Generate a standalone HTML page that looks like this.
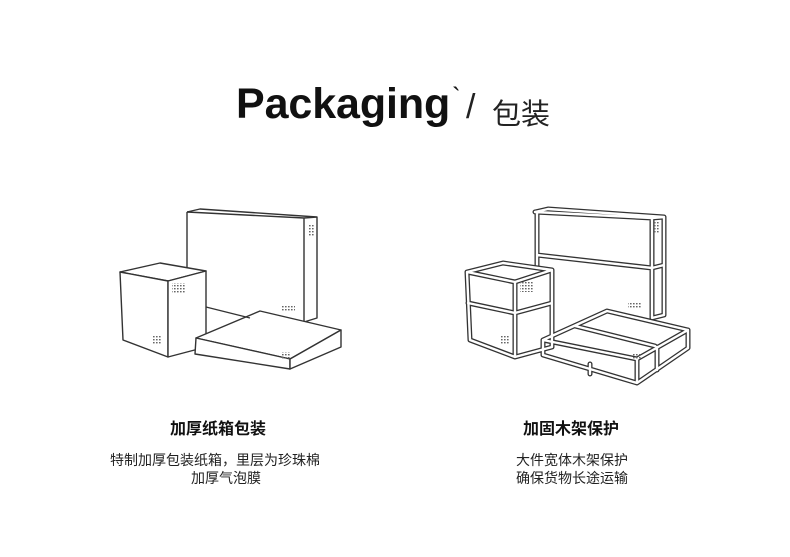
<!DOCTYPE html>
<html><head><meta charset="utf-8"><style>
body{margin:0;background:#fff;width:790px;height:557px;overflow:hidden;position:relative;font-family:"Liberation Sans","Noto Sans CJK SC",sans-serif;color:#111}
.t{position:absolute;white-space:nowrap}
</style></head><body>
<div class="t" style="left:236px;top:80px;font-size:43px;font-weight:bold;letter-spacing:-0.1px">Packaging</div>
<div class="t" style="left:452px;top:82px;font-size:26px">`</div>
<div class="t" style="left:466px;top:88px;font-size:34px;font-weight:300;color:#222">/</div>
<div class="t" style="left:492px;top:91px;font-size:29px;color:#222">包装</div>

<svg width="790" height="557" style="position:absolute;left:0;top:0" fill="none" stroke-linejoin="round">
<defs>
<pattern id="d" width="3" height="3" patternUnits="userSpaceOnUse"><rect width="1.6" height="1.4" fill="#666"/></pattern>
</defs>
<g stroke="#333" stroke-width="1.4">
 <path d="M187,212 L304,218 L317,217 L317,318 L304,322 L304,218 M187,212 L200,209 L317,217 M187,212 L187,307"/>
 <path fill="#fff" d="M120,272 L160,263 L206,271 L168,281 Z"/>
 <path fill="#fff" d="M120,272 L168,281 L168,357 L123,340 Z"/>
 <path fill="#fff" d="M168,281 L206,271 L206,347 L168,357 Z"/>
 <path fill="#fff" d="M196,338 L260,311 L341,330 L290,359 Z"/>
 <path fill="#fff" d="M196,338 L290,359 L290,369 L195,354 Z"/>
 <path fill="#fff" d="M290,359 L341,330 L341,347 L290,369 Z"/>
 <path d="M206,307 L250,318"/>
</g>
<g fill="url(#d)">
 <rect x="309" y="224" width="5" height="12"/>
 <rect x="172" y="283" width="14" height="10"/>
 <rect x="152" y="335" width="10" height="10"/>
 <rect x="281" y="306" width="14" height="6"/>
 <rect x="281" y="352" width="9" height="7"/>
</g>
<g stroke-linecap="round">
 <g stroke="#333" stroke-width="5">
  <path d="M535,212 L652,218 L664,217 L664,315 L652,318 L652,218 M535,212 L548,209 L664,217 M537,212 L537,307 M537,255 L652,268 M652,268 L664,265"/>
 </g>
 <g stroke="#fff" stroke-width="2.4">
  <path d="M535,212 L652,218 L664,217 L664,315 L652,318 L652,218 M535,212 L548,209 L664,217 M537,212 L537,307 M537,255 L652,268 M652,268 L664,265"/>
 </g>
 <path fill="#fff" d="M467,272 L503,263 L552,270 L552,347 L515,357 L470,340 Z"/>
 <path fill="#fff" d="M543,340 L607,311 L688,330 L688,348 L637,383 L543,355 Z"/>
 <g stroke="#333" stroke-width="5">
  <path d="M467,272 L503,263 L552,270 L515,282 Z M467,272 L470,340 L515,357 L552,347 L552,270 M515,282 L515,357 M468,303 L515,313 L552,303 M543,340 L607,311 L688,330 L637,359 Z M543,340 L543,355 L637,383 L688,348 L688,330 M637,359 L637,383 M590,364 L590,374 M657,347 L657,370 M575,326 L655,346"/>
 </g>
 <g stroke="#fff" stroke-width="2.4">
  <path d="M467,272 L503,263 L552,270 L515,282 Z M467,272 L470,340 L515,357 L552,347 L552,270 M515,282 L515,357 M468,303 L515,313 L552,303 M543,340 L607,311 L688,330 L637,359 Z M543,340 L543,355 L637,383 L688,348 L688,330 M637,359 L637,383 M590,364 L590,374 M657,347 L657,370 M575,326 L655,346"/>
 </g>
</g>
<g fill="url(#d)">
 <rect x="654" y="222" width="5" height="12"/>
 <rect x="520" y="282" width="14" height="10"/>
 <rect x="500" y="335" width="10" height="10"/>
 <rect x="628" y="302" width="14" height="6"/>
 <rect x="632" y="353" width="9" height="6"/>
</g>
</svg>

<div class="t" style="left:170px;top:415px;font-size:16px;font-weight:bold">加厚纸箱包装</div>
<div class="t" style="left:110px;top:450px;font-size:14px;color:#222">特制加厚包装纸箱，里层为珍珠棉</div>
<div class="t" style="left:191px;top:468px;font-size:14px;color:#222">加厚气泡膜</div>
<div class="t" style="left:523px;top:415px;font-size:16px;font-weight:bold">加固木架保护</div>
<div class="t" style="left:516px;top:450px;font-size:14px;color:#222">大件宽体木架保护</div>
<div class="t" style="left:516px;top:468px;font-size:14px;color:#222">确保货物长途运输</div>
</body></html>
